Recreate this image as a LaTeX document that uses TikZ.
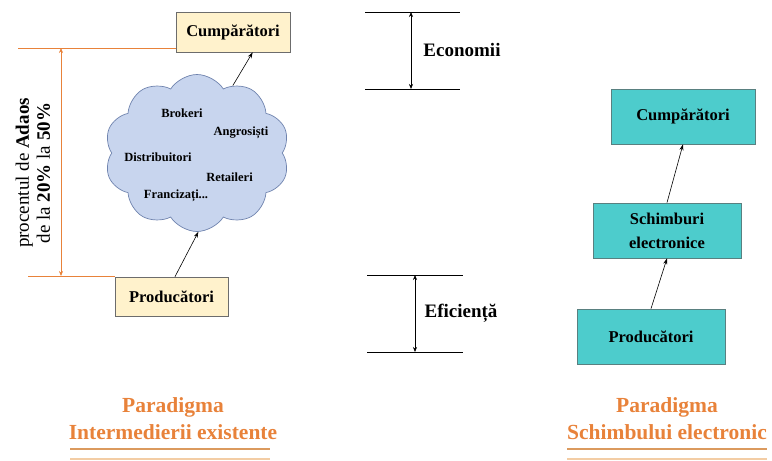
\documentclass[tikz,border=0pt]{standalone}
\usepackage{fontspec}
\setmainfont{Liberation Serif}
\usetikzlibrary{arrows.meta,shapes.symbols,calc}
\definecolor{boxyellow}{HTML}{FFF2CC}
\definecolor{boxteal}{HTML}{4DCCCC}
\definecolor{cloudblue}{HTML}{C8D5EE}
\definecolor{cloudedge}{HTML}{6F83AE}
\definecolor{accent}{HTML}{E8823A}
\definecolor{ruledark}{HTML}{DB9A5E}
\definecolor{rulelight}{HTML}{F3CDA5}
\tikzset{
  yellowbox/.style={draw=gray!85!black, fill=boxyellow, line width=0.7pt,
    inner sep=0pt, font=\fontsize{16.5}{19}\selectfont\bfseries},
  tealbox/.style={draw=gray!70!teal, fill=boxteal, line width=0.7pt,
    inner sep=0pt, align=center, font=\fontsize{16.5}{24}\selectfont\bfseries},
  cloudtxt/.style={font=\fontsize{12.5}{14}\selectfont\bfseries},
  arr/.style={-{Stealth[length=6pt,width=4pt]}, line width=0.6pt},
  dimarr/.style={{Stealth[length=5pt,width=4pt]}-{Stealth[length=5pt,width=4pt]}, line width=0.6pt},
  hrule/.style={line width=1.8pt},
  title/.style={text=accent, align=center, font=\fontsize{21.5}{27}\selectfont\bfseries},
  measure/.style={font=\fontsize{19}{21}\selectfont\bfseries}
}
\begin{document}
\begin{tikzpicture}[x=1pt,y=-1pt]
\useasboundingbox (0,0) rectangle (772,461);

% ---- intermediary chain ----
\node[yellowbox, minimum width=114pt, minimum height=40pt] (cb) at (233,32) {Cumpărători};
\node[yellowbox, minimum width=113pt, minimum height=39pt] (pr) at (171.5,296.5) {Producători};
\node[cloud, cloud puffs=10, cloud puff arc=115, aspect=1.2, draw=cloudedge, fill=cloudblue,
      line width=0.7pt, minimum width=185pt, minimum height=157pt, inner sep=0pt] (cl) at (197,153) {};
\node[cloudtxt] (t1) at (182,113) {Brokeri};
\node[cloudtxt] (t2) at (241,133) {Angrosiști};
\node[cloudtxt] (t3) at (158,157) {Distribuitori};
\node[cloudtxt] (t4) at (229.5,177) {Retaileri};
\node[cloudtxt] (t5) at (176,196) {Francizați...};
\draw[arr] (cl.62) -- (cb.-46);
\draw[arr] (pr.80) -- (cl.-89);

% ---- markup span ----
\coordinate (m1) at (18,48);
\coordinate (m2) at (28,276);
\coordinate (m1a) at (61,48);
\coordinate (m2a) at (61,276);
\draw[accent, line width=0.7pt] (m1) -- (m1 -| cb.west);
\draw[accent, line width=0.7pt] (m2) -- (m2 -| pr.west);
\draw[accent, dimarr] (m1a) -- (m2a);
\node[rotate=90, align=center, font=\fontsize{19}{21}\selectfont] (mk) at (33,173)
  {procentul de \textbf{Adaos}\\de la \textbf{20\%} la \textbf{50\%}};

% ---- savings / efficiency ----
\coordinate (e1l) at (365,12);  \coordinate (e1r) at (460,12);
\coordinate (e2l) at (365,89);  \coordinate (e2r) at (460,89);
\coordinate (e1a) at (411,12);  \coordinate (e2a) at (411,89);
\draw[line width=0.8pt] (e1l) -- (e1r);
\draw[line width=0.8pt] (e2l) -- (e2r);
\draw[dimarr] (e1a) -- (e2a);
\node[measure] (ec) at (462,50) {Economii};

\coordinate (f1l) at (367,275); \coordinate (f1r) at (463,275);
\coordinate (f2l) at (367,352); \coordinate (f2r) at (463,352);
\coordinate (f1a) at (415,275); \coordinate (f2a) at (415,352);
\draw[line width=0.8pt] (f1l) -- (f1r);
\draw[line width=0.8pt] (f2l) -- (f2r);
\draw[dimarr] (f1a) -- (f2a);
\node[measure] (ef) at (461,313) {Eficiență};

% ---- electronic exchange chain ----
\node[tealbox, minimum width=144pt, minimum height=55pt] (cb2) at (683,116.5) {Cumpărători};
\node[tealbox, minimum width=148pt, minimum height=55pt] (sx) at (667,230.5) {Schimburi\\electronice};
\node[tealbox, minimum width=148pt, minimum height=55pt] (pr2) at (651,336.5) {Producători};
\draw[arr] (sx.north) -- (cb2.south);
\draw[arr] (pr2.north) -- (sx.south);

% ---- captions ----
\node[title] (cap1) at (173,419) {Paradigma\\Intermedierii existente};
\node[title] (cap2) at (667,419) {Paradigma\\Schimbului electronic};
\coordinate (r1a) at (70,449);  \coordinate (r1b) at (270,449);
\coordinate (r2a) at (70,459);  \coordinate (r2b) at (270,459);
\coordinate (r3a) at (567,449); \coordinate (r3b) at (767,449);
\coordinate (r4a) at (567,459); \coordinate (r4b) at (767,459);
\draw[hrule, ruledark] (r1a) -- (r1b);
\draw[hrule, rulelight] (r2a) -- (r2b);
\draw[hrule, ruledark] (r3a) -- (r3b);
\draw[hrule, rulelight] (r4a) -- (r4b);
\end{tikzpicture}
\end{document}
